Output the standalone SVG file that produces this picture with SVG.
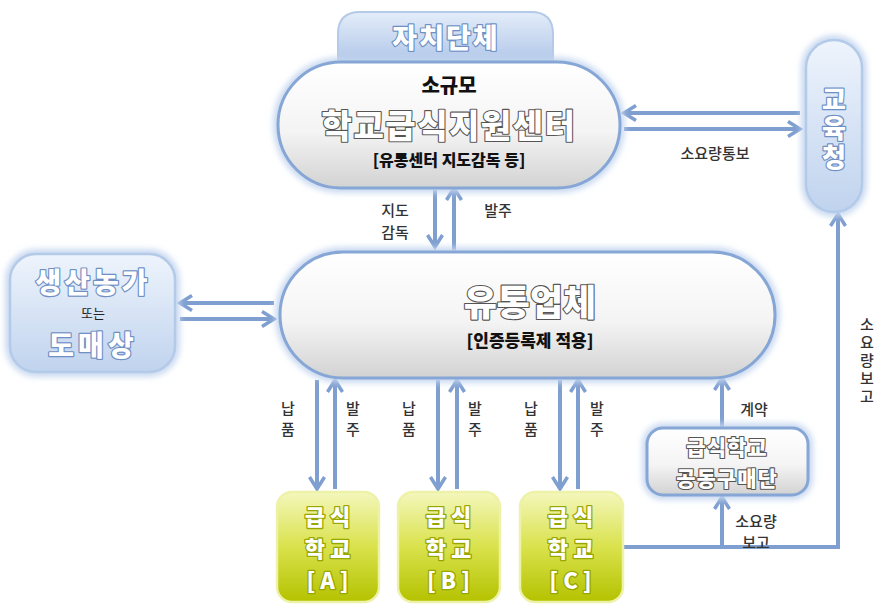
<svg xmlns="http://www.w3.org/2000/svg" width="888" height="605" viewBox="0 0 888 605">
<defs>
<style>
.t{font-family:"Noto Sans CJK KR","Noto Sans",sans-serif;text-anchor:middle;dominant-baseline:central}
.v{writing-mode:vertical-rl;text-orientation:upright}
.lbl{font-size:15px;fill:#333;font-weight:500}
.blk{font-weight:900;fill:#111}
.og{font-weight:900;fill:#fff;stroke:#555;stroke-width:2.2;paint-order:stroke;stroke-linejoin:round}
.ob{font-weight:900;fill:#fff;stroke:#6f90c4;stroke-width:2.4;paint-order:stroke;stroke-linejoin:round}
.oy{font-weight:900;fill:#fff;stroke:#98a600;stroke-width:2.6;paint-order:stroke;stroke-linejoin:round}
.ar{fill:none;stroke:#7f9fd0;stroke-width:4}
.pill{fill:url(#gw);stroke:#86a6d6;stroke-width:3}
.halo{fill:none;stroke:#c4d6ef;stroke-width:9;filter:url(#bl)}
.bluebox{fill:url(#gb);stroke:#b4cae9;stroke-width:2.5}
.school{fill:url(#gy);stroke:#eef2a8;stroke-width:2.5}
.sc{font-size:22px;letter-spacing:5px}
</style>
<linearGradient id="gw" x1="0" y1="0" x2="0" y2="1"><stop offset="0" stop-color="#ffffff"/><stop offset="0.55" stop-color="#f4f4f4"/><stop offset="1" stop-color="#d2d2d2"/></linearGradient>
<linearGradient id="gb" x1="0" y1="0" x2="0" y2="1"><stop offset="0" stop-color="#eef4fc"/><stop offset="1" stop-color="#c0d3ee"/></linearGradient>
<linearGradient id="gt" x1="0" y1="0" x2="0" y2="1"><stop offset="0" stop-color="#e4edf9"/><stop offset="1" stop-color="#a9c1e6"/></linearGradient>
<linearGradient id="gy" x1="0" y1="0" x2="0" y2="1"><stop offset="0" stop-color="#f4f7bc"/><stop offset="0.5" stop-color="#d9e24c"/><stop offset="1" stop-color="#b4c200"/></linearGradient>
<filter id="bl" x="-20%" y="-20%" width="140%" height="140%"><feGaussianBlur stdDeviation="3"/></filter>
<marker id="ah" viewBox="0 0 20 20" refX="17" refY="10" markerWidth="20" markerHeight="20" orient="auto" markerUnits="userSpaceOnUse"><path d="M5,2.5 L17,10 L5,17.5" fill="none" stroke="#7f9fd0" stroke-width="3.5"/></marker>
</defs>
<rect width="888" height="605" fill="#fff"/>

<g id="connectors">
<line class="ar" x1="800" y1="113" x2="624" y2="113" marker-end="url(#ah)"/>
<line class="ar" x1="624" y1="129" x2="800" y2="129" marker-end="url(#ah)"/>
<line class="ar" x1="435" y1="190" x2="435" y2="247" marker-end="url(#ah)"/>
<line class="ar" x1="454" y1="250" x2="454" y2="188" marker-end="url(#ah)"/>
<line class="ar" x1="274" y1="303" x2="180" y2="303" marker-end="url(#ah)"/>
<line class="ar" x1="180" y1="319" x2="274" y2="319" marker-end="url(#ah)"/>
<line class="ar" x1="317" y1="380" x2="317" y2="489" marker-end="url(#ah)"/>
<line class="ar" x1="335" y1="489" x2="335" y2="380" marker-end="url(#ah)"/>
<line class="ar" x1="438" y1="380" x2="438" y2="489" marker-end="url(#ah)"/>
<line class="ar" x1="457" y1="489" x2="457" y2="380" marker-end="url(#ah)"/>
<line class="ar" x1="560" y1="380" x2="560" y2="489" marker-end="url(#ah)"/>
<line class="ar" x1="578" y1="489" x2="578" y2="380" marker-end="url(#ah)"/>
<line class="ar" x1="722" y1="428" x2="722" y2="378" marker-end="url(#ah)"/>
<polyline class="ar" points="623,547 838,547 838,214" marker-end="url(#ah)"/>
<line class="ar" x1="722" y1="547" x2="722" y2="497" marker-end="url(#ah)"/>
<text class="t lbl" x="715" y="152">소요량통보</text>
<text class="t lbl" x="395" y="209">지도</text>
<text class="t lbl" x="395" y="231">감독</text>
<text class="t lbl" x="498" y="209">발주</text>
<text class="t v lbl" x="288" y="422" letter-spacing="6">납품</text>
<text class="t v lbl" x="353" y="422" letter-spacing="6">발주</text>
<text class="t v lbl" x="409" y="422" letter-spacing="6">납품</text>
<text class="t v lbl" x="475" y="422" letter-spacing="6">발주</text>
<text class="t v lbl" x="531" y="422" letter-spacing="6">납품</text>
<text class="t v lbl" x="597" y="422" letter-spacing="6">발주</text>
<text class="t lbl" x="754" y="408">계약</text>
<text class="t lbl" x="756" y="520">소요량</text>
<text class="t lbl" x="756" y="541">보고</text>
<text class="t v lbl" x="867" y="362" letter-spacing="3">소요량보고</text>
</g>

<g id="jachi">
<path d="M338,70 L338,34 Q338,12 360,12 L531,12 Q553,12 553,34 L553,70 Z" fill="url(#gt)" stroke="#b4cae9" stroke-width="2"/>
<text class="t ob" x="446" y="36" font-size="27" letter-spacing="2">자치단체</text>
</g>

<g id="center">
<rect class="halo" x="278" y="62" width="342" height="126" rx="63"/>
<rect class="pill" x="278" y="62" width="342" height="126" rx="63"/>
<text class="t blk" x="449" y="84" font-size="20">소규모</text>
<text class="t og" x="449" y="124" font-size="33" letter-spacing="1.5">학교급식지원센터</text>
<text class="t blk" x="449" y="159" font-size="16">[유통센터 지도감독 등]</text>
</g>

<g id="edu">
<rect class="halo" x="806" y="40" width="56" height="172" rx="28"/>
<rect class="bluebox" x="806" y="40" width="56" height="172" rx="28"/>
<text class="t v ob" x="834" y="130" font-size="26" letter-spacing="3">교육청</text>
</g>

<g id="farm">
<rect class="halo" x="10" y="254" width="165" height="118" rx="26"/>
<rect class="bluebox" x="10" y="254" width="165" height="118" rx="26"/>
<text class="t ob" x="93" y="281" font-size="28" letter-spacing="3">생산농가</text>
<text class="t" x="93" y="312" font-size="13" fill="#222">또는</text>
<text class="t ob" x="93" y="344" font-size="28" letter-spacing="4">도매상</text>
</g>

<g id="distributor">
<rect class="halo" x="280" y="252" width="495" height="126" rx="63"/>
<rect class="pill" x="280" y="252" width="495" height="126" rx="63"/>
<text class="t og" x="530" y="300" font-size="36">유통업체</text>
<text class="t blk" x="530" y="339" font-size="17">[인증등록제 적용]</text>
</g>

<g id="schoolA">
<rect class="school" x="277" y="492" width="102" height="110" rx="15"/>
<text class="t oy sc" x="330" y="515">급식</text>
<text class="t oy sc" x="330" y="547">학교</text>
<text class="t oy sc" x="330" y="579">[A]</text>
</g>
<g id="schoolB">
<rect class="school" x="398" y="492" width="102" height="110" rx="15"/>
<text class="t oy sc" x="451" y="515">급식</text>
<text class="t oy sc" x="451" y="547">학교</text>
<text class="t oy sc" x="451" y="579">[B]</text>
</g>
<g id="schoolC">
<rect class="school" x="520" y="492" width="103" height="110" rx="15"/>
<text class="t oy sc" x="573" y="515">급식</text>
<text class="t oy sc" x="573" y="547">학교</text>
<text class="t oy sc" x="573" y="579">[C]</text>
</g>

<g id="coop">
<rect class="halo" x="647" y="428" width="161" height="67" rx="16"/>
<rect class="pill" x="647" y="428" width="161" height="67" rx="16"/>
<text class="t og" x="727" y="446" font-size="21" letter-spacing="1">급식학교</text>
<text class="t og" x="727" y="477" font-size="21" letter-spacing="1">공동구매단</text>
</g>
</svg>
